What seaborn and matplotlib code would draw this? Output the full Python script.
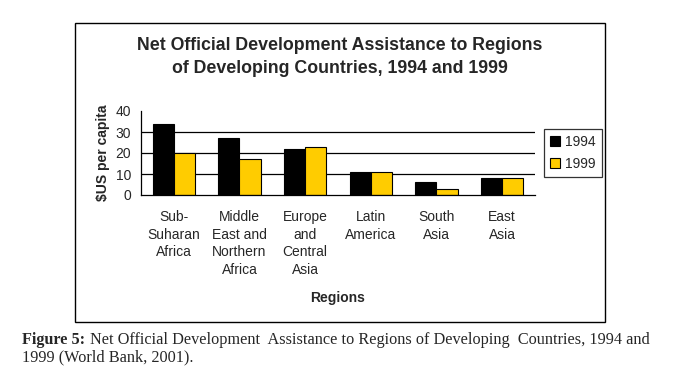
import matplotlib
matplotlib.use("Agg")
import matplotlib.pyplot as plt
import seaborn as sns
import pandas as pd
from matplotlib.patches import Rectangle, Patch

regions = ["Sub-\nSuharan\nAfrica", "Middle\nEast and\nNorthern\nAfrica",
           "Europe\nand\nCentral\nAsia", "Latin\nAmerica", "South\nAsia", "East\nAsia"]
years = ["1994", "1999"]
values_1994 = [34, 27, 22, 11, 6, 8]
values_1999 = [20, 17, 23, 11, 3, 8]
yticks = [0, 10, 20, 30, 40]

df = pd.DataFrame({
    "region": regions * 2,
    "year": [years[0]] * len(regions) + [years[1]] * len(regions),
    "value": values_1994 + values_1999,
})

sns.set_style("white")
plt.rcParams["font.family"] = ["Liberation Sans", "DejaVu Sans"]

W, H = 690, 384
fig = plt.figure(figsize=(W / 100, H / 100), dpi=100)

# outer chart box
fig.patches.append(Rectangle((75 / W, (H - 322) / H), 530 / W, 299 / H,
                             transform=fig.transFigure, fill=False,
                             edgecolor="black", linewidth=1.0))

ax = fig.add_axes([141 / W, (H - 195) / H, (535 - 141) / W, (195 - 111) / H])
colors = ["#000000", "#FFCC00"]
sns.barplot(data=df, x="region", y="value", hue="year", palette=colors,
            saturation=1, edgecolor="black", linewidth=0.8, width=0.64, ax=ax,
            legend=False)

ax.set_ylim(0, 40)
ax.set_xlim(-0.5, len(regions) - 0.5)
ax.set_yticks(yticks)
ax.set_yticklabels([str(v) for v in yticks], fontsize=10)
for v in yticks[1:-1]:
    ax.axhline(v, color="black", linewidth=0.9, zorder=0)

ax.set_xticks(range(len(regions)))
ax.set_xticklabels(regions, fontsize=10, linespacing=1.32)
ax.set_xticks([i - 0.5 for i in range(len(regions) + 1)], minor=True)
ax.tick_params(axis="x", which="major", length=0, pad=11)
ax.tick_params(axis="x", which="minor", length=4, width=0.9, color="black", direction="out")
ax.tick_params(axis="y", length=4, width=0.9, color="black", direction="out", pad=3)

for s in ["top", "right"]:
    ax.spines[s].set_visible(False)
for s in ["left", "bottom"]:
    ax.spines[s].set_color("black")
    ax.spines[s].set_linewidth(0.9)

ax.set_xlabel("Regions", fontsize=10, fontweight="bold")
ax.set_ylabel("$US per capita", fontsize=10, fontweight="bold", labelpad=4)
ax.xaxis.set_label_coords(0.5, -1.14)

fig.text(340 / W, 1 - 57 / H,
         "Net Official Development Assistance to Regions\nof Developing Countries, 1994 and 1999",
         ha="center", va="center", fontsize=12.8, fontweight="bold", linespacing=1.4)

handles = [Patch(facecolor=c, edgecolor="black", linewidth=0.8) for c in colors]
leg = fig.legend(handles, years, loc="center", bbox_to_anchor=(573 / W, 1 - 153 / H),
                 fontsize=10, frameon=True, fancybox=False, handlelength=0.7,
                 handleheight=0.7, handletextpad=0.4, borderpad=0.45, labelspacing=0.6,
                 edgecolor="black", borderaxespad=0)
leg.get_frame().set_linewidth(0.9)

fig.text(22 / W, 1 - 340 / H, "Figure 5:", fontsize=11.7, fontweight="bold",
         family=["Liberation Serif"], ha="left", va="center")
fig.text(90 / W, 1 - 340 / H,
         "Net Official Development  Assistance to Regions of Developing  Countries, 1994 and",
         fontsize=11.7, family=["Liberation Serif"], ha="left", va="center")
fig.text(22 / W, 1 - 357 / H, "1999 (World Bank, 2001).", fontsize=11.7,
         family=["Liberation Serif"], ha="left", va="center")

fig.savefig("out.png", dpi=100, facecolor="white")
